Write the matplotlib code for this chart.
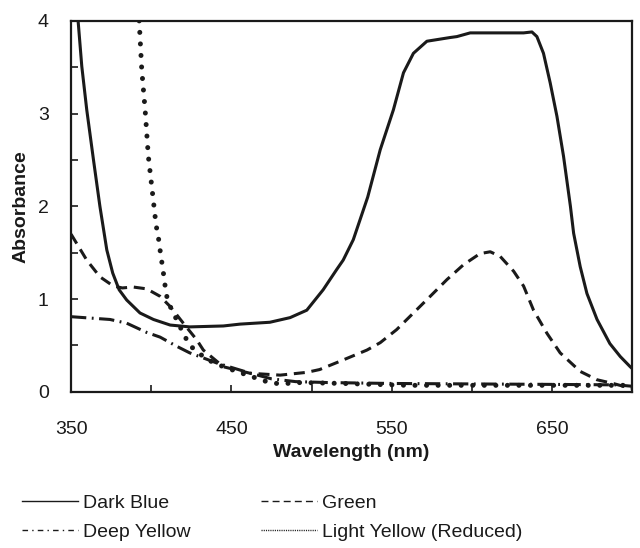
import numpy as np
import matplotlib.pyplot as plt
from matplotlib.lines import Line2D
from matplotlib.ticker import MultipleLocator

plt.rcParams['font.family'] = ['Liberation Sans', 'DejaVu Sans']

# Dark Blue (solid)
wl_blue = [354.4, 356.7, 359.8, 364, 368, 372.3, 376, 380, 384.7, 393, 401.4, 411.8, 424, 445, 455.4, 474,
           486.6, 497, 507.2, 515.7, 519.7, 526, 535, 542.8, 551, 557.3, 563.5, 571.9, 586.4, 590.6, 598.9,
           632.2, 637.4, 640.5, 644.6, 648.8, 653, 657.1, 661.4, 663.4, 667.5, 671.7, 678, 686, 692.5, 698.7, 700]
ab_blue = [4.0, 3.51, 3.04, 2.5, 2.0, 1.53, 1.28, 1.10, 0.99, 0.85, 0.78, 0.72, 0.70, 0.71, 0.73, 0.75,
           0.80, 0.88, 1.1, 1.32, 1.42, 1.64, 2.1, 2.61, 3.04, 3.44, 3.65, 3.78, 3.82, 3.83, 3.87,
           3.87, 3.88, 3.83, 3.65, 3.33, 2.97, 2.54, 2.0, 1.71, 1.35, 1.06, 0.78, 0.52, 0.38, 0.27, 0.25]

# Green (dashed)
wl_green = [350, 359.8, 368, 376.4, 382, 388.7, 397.2, 405.5, 411.8, 420, 428.4, 432.5, 445, 461.7, 480.4,
            497, 505, 517.8, 534.5, 542.8, 553, 563.5, 574, 584.4, 594.7, 605, 611.4, 617.6, 626, 632.2,
            638.4, 646.8, 655, 667.5, 678, 688, 698.7, 700]
ab_green = [1.70, 1.42, 1.24, 1.14, 1.12, 1.13, 1.11, 1.03, 0.92, 0.74, 0.56, 0.45, 0.27, 0.20, 0.18,
            0.21, 0.24, 0.33, 0.45, 0.53, 0.67, 0.85, 1.03, 1.21, 1.37, 1.49, 1.51, 1.46, 1.30, 1.14,
            0.88, 0.63, 0.42, 0.22, 0.13, 0.09, 0.04, 0.04]

# Deep Yellow (dash-dot)
wl_deep = [350, 374.3, 384.7, 397.2, 405.5, 416, 424, 441, 462, 475, 490, 510, 550, 600, 650, 690, 700]
ab_deep = [0.81, 0.78, 0.74, 0.64, 0.59, 0.49, 0.42, 0.31, 0.20, 0.14, 0.11, 0.10, 0.09, 0.085, 0.08, 0.075, 0.06]

# Light Yellow (Reduced) (dotted)
wl_light = [392.5, 394.1, 396.2, 398.2, 401.4, 403, 404.5, 405.5, 406.6, 407.6, 408.6, 409.7, 411.3, 413.8,
            420, 424, 434.6, 445, 461.7, 472, 480, 493, 520, 560, 600, 650, 700]
ab_light = [4.0, 3.47, 3.04, 2.54, 2.05, 1.80, 1.66, 1.53, 1.40, 1.28, 1.15, 1.03, 0.94, 0.85,
            0.63, 0.50, 0.35, 0.27, 0.17, 0.11, 0.085, 0.10, 0.09, 0.07, 0.07, 0.07, 0.07]

ink = '#1a1a1a'
fig = plt.figure(figsize=(6.4, 5.48), dpi=100)
ax = fig.add_axes([0.111, 0.285, 0.877, 0.677])

lw = 2.2
ax.plot(wl_blue, ab_blue, color=ink, lw=lw, solid_joinstyle='round')
ax.plot(wl_green, ab_green, color=ink, lw=lw, dashes=(3.6, 2.2))
ax.plot(wl_deep, ab_deep, color=ink, lw=lw, dashes=(5, 1.8, 0.6, 1.8))
ax.plot(wl_light, ab_light, color=ink, lw=3.6, dashes=(0.01, 2.3), dash_capstyle='round')

ax.set_xlim(350, 700)
ax.set_ylim(0, 4)
ax.set_xticks([350, 450, 550, 650])
ax.xaxis.set_minor_locator(MultipleLocator(50))
ax.set_yticks([0, 1, 2, 3, 4])
ax.yaxis.set_minor_locator(MultipleLocator(0.5))
ax.tick_params(which='both', direction='in', length=5, width=1.2, labelsize=14, colors=ink)
ax.tick_params(axis='x', pad=21)
ax.tick_params(axis='y', pad=16)
for s in ax.spines.values():
    s.set_linewidth(1.6)
    s.set_color(ink)

ax.set_xlabel('Wavelength (nm)', fontsize=14, fontweight='bold', labelpad=4, color=ink)
ax.set_ylabel('Absorbance', fontsize=14, fontweight='bold', labelpad=6, color=ink)

handles = [
    Line2D([], [], color=ink, lw=1.0),
    Line2D([], [], color=ink, lw=1.0, dashes=(5, 3)),
    Line2D([], [], color=ink, lw=1.0, dashes=(4, 3, 1, 3)),
    Line2D([], [], color=ink, lw=1.0, dashes=(0.8, 0.8)),
]
labels = ['Dark Blue', 'Green', 'Deep Yellow', 'Light Yellow (Reduced)']
order = [0, 2, 1, 3]
fig.legend([handles[i] for i in order], [labels[i] for i in order], ncol=2,
           loc='upper left', bbox_to_anchor=(0.034, 0.098), frameon=False, fontsize=14,
           borderpad=0, borderaxespad=0, handlelength=2.9, columnspacing=3.6,
           handletextpad=0.26, labelspacing=0.6, labelcolor=ink)

fig.savefig('out.png', dpi=100)
